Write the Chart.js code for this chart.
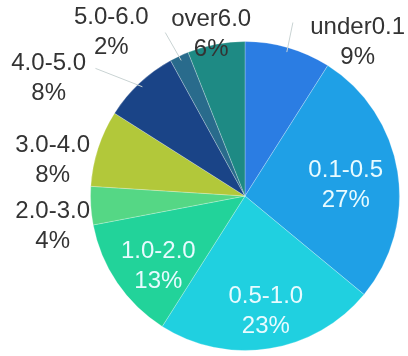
<!DOCTYPE html>
<html>
<head>
<meta charset="utf-8">
<script src="https://cdn.jsdelivr.net/npm/chart.js@4/dist/chart.umd.min.js"></script>
<style>
    html, body { margin: 0; padding: 0; background: #fff; }
    #wrap { width: 408px; height: 356px; position: relative; }
</style>
</head>
<body>
<div id="wrap"><canvas id="pieChart"></canvas></div>
<script>
    "use strict";

    // Share of each band (percent), clockwise from 12 o'clock
    const categories = ['under0.1', '0.1-0.5', '0.5-1.0', '1.0-2.0', '2.0-3.0', '3.0-4.0', '4.0-5.0', '5.0-6.0', 'over6.0'];
    const shares = [9, 27, 23, 13, 4, 8, 8, 2, 6];

    const sliceColors = ['#2b7de3', '#1fa0e6', '#20d0e0', '#22d39a', '#55d785', '#b2c83a', '#1a4487', '#296b8c', '#1e8a84'];

    // Label placement, as fractions of the radius from the centre (style only)
    const labelOffsets = [
        [0.729, -0.994], [0.652, -0.071], [0.135, 0.748], [-0.561, 0.458], [-1.245, 0.194],
        [-1.245, -0.232], [-1.271, -0.761], [-0.865, -1.058], [-0.219, -1.045]
    ];
    const labelInside = [false, true, true, true, false, false, false, false, false];
    // leader line end points (fraction of radius), null = no leader
    const leaderEnds = [[0.310, -1.123], null, null, null, null, null, [-0.968, -0.826], [-0.516, -1.058], null];

    // Draws the two-line labels and the thin leader lines
    const sliceLabels = {
        id: 'sliceLabels',
        afterDatasetsDraw(chart) {
            const ctx = chart.ctx;
            const meta = chart.getDatasetMeta(0);
            const data = chart.data.datasets[0].data;
            const total = data.reduce((a, b) => a + b, 0);
            ctx.save();
            meta.data.forEach((arc, i) => {
                const p = arc.getProps(['x', 'y', 'startAngle', 'endAngle', 'outerRadius'], true);
                const r = p.outerRadius;
                const mid = (p.startAngle + p.endAngle) / 2;
                if (leaderEnds[i]) {
                    ctx.strokeStyle = '#c9d3d3';
                    ctx.lineWidth = 1;
                    ctx.beginPath();
                    ctx.moveTo(p.x + Math.cos(mid) * r * 0.97, p.y + Math.sin(mid) * r * 0.97);
                    ctx.lineTo(p.x + leaderEnds[i][0] * r, p.y + leaderEnds[i][1] * r);
                    ctx.stroke();
                }
                const lx = p.x + labelOffsets[i][0] * r;
                const ly = p.y + labelOffsets[i][1] * r;
                ctx.font = '24px "Liberation Sans", Arial, sans-serif';
                ctx.textAlign = 'center';
                ctx.textBaseline = 'middle';
                ctx.fillStyle = labelInside[i] ? '#e8fbff' : '#333333';
                ctx.fillText(chart.data.labels[i], lx, ly - 15);
                ctx.fillText(Math.round(data[i] / total * 100) + '%', lx, ly + 15);
            });
            ctx.restore();
        }
    };

    const ctx = document.getElementById('pieChart').getContext('2d');
    new Chart(ctx, {
        type: 'pie',
        data: {
            labels: categories,
            datasets: [{
                data: shares,
                backgroundColor: sliceColors,
                borderColor: 'rgba(255,255,255,0.25)',
                borderWidth: 1
            }]
        },
        options: {
            responsive: true,
            maintainAspectRatio: false,
            animation: false,
            layout: {
                padding: { left: 90, right: 8, top: 41, bottom: 5 }
            },
            plugins: {
                legend: { display: false },
                tooltip: { enabled: false }
            }
        },
        plugins: [sliceLabels]
    });
</script>
</body>
</html>
